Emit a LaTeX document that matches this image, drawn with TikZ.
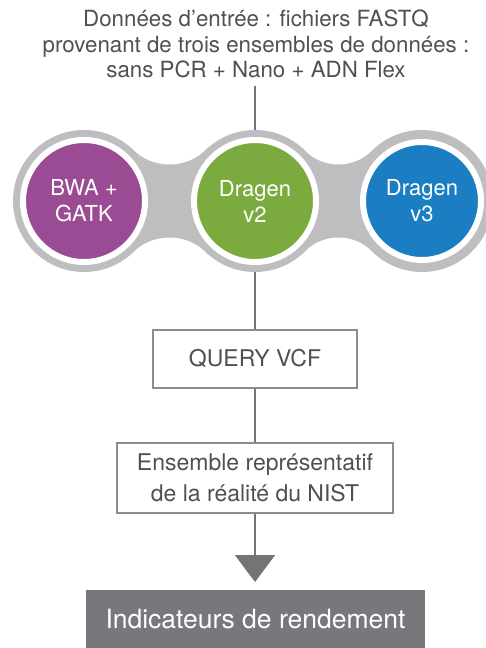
\documentclass[tikz,border=0pt]{standalone}
\usepackage{fontspec}
\setmainfont{TeX Gyre Heros}
\usetikzlibrary{arrows.meta}
\definecolor{ringgray}{HTML}{BEBEC0}
\definecolor{linegray}{HTML}{747474}
\definecolor{boxgray}{HTML}{8C8C8C}
\definecolor{txtgray}{HTML}{505050}
\definecolor{darkbox}{HTML}{78787C}
\definecolor{cpurple}{HTML}{9A4B93}
\definecolor{cgreen}{HTML}{7BAA3E}
\definecolor{cblue}{HTML}{1B7EC2}
\begin{document}
\begin{tikzpicture}[x=1pt,y=-1pt,
  disc/.style={circle, draw=white, line width=6pt, minimum size=122pt, inner sep=0pt,
    text=white, align=center, font=\fontsize{22}{26}\selectfont, outer sep=10pt},
  stagebox/.style={draw=boxgray, line width=1.3pt, text=txtgray, align=center, inner sep=0pt},
  conn/.style={draw=linegray, line width=1.3pt}]
\useasboundingbox (0,0) rectangle (485,648);
% connecting band
\fill[ringgray] (84,148) rectangle (422,254);
\fill[white] (169.5,112.3) circle[radius=52.2pt] (169.5,289.7) circle[radius=52.2pt]
             (338.5,117.2) circle[radius=47.3pt] (338.5,284.8) circle[radius=47.3pt];
\fill[ringgray] (84,201) circle[radius=71pt] (255,201) circle[radius=71pt] (422,201) circle[radius=71pt];
% discs
\node[disc, fill=cpurple] (bwa) at (84,201) {BWA +\\GATK};
\node[disc, fill=cgreen] (v2) at (255,201) {Dragen\\v2};
\node[disc, fill=cblue, minimum size=118pt, outer sep=12pt] (v3) at (422,201) {Dragen\\v3};
% title
\node[text=txtgray, align=center, font=\fontsize{22.3}{25.5}\selectfont, anchor=north, inner sep=0pt]
  (title) at (256,10) {Données d’entrée : fichiers FASTQ\\provenant de trois ensembles de données :\\sans PCR + Nano + ADN Flex};
% boxes
\node[stagebox, minimum width=204pt, minimum height=58pt, font=\fontsize{23}{27}\selectfont]
  (query) at (255,359) {QUERY VCF};
\node[stagebox, minimum width=276pt, minimum height=70pt, font=\fontsize{23}{31}\selectfont]
  (nist) at (255,478) {Ensemble représentatif\\de la réalité du NIST};
\node[fill=darkbox, text=white, minimum width=339pt, minimum height=58pt, inner sep=0pt,
  font=\fontsize{26.5}{30}\selectfont] (perf) at (255.5,619) {Indicateurs de rendement};
\coordinate (tip) at (255,582);
% connectors
\draw[conn, shorten <=8pt] (v2.north |- title.south) -- (v2.north);
\draw[conn] (v2.south) -- (query.north);
\draw[conn] (query.south) -- (nist.north);
\draw[conn, -{Triangle[width=40pt,length=27pt]}] (nist.south) -- (tip);
\end{tikzpicture}
\end{document}
